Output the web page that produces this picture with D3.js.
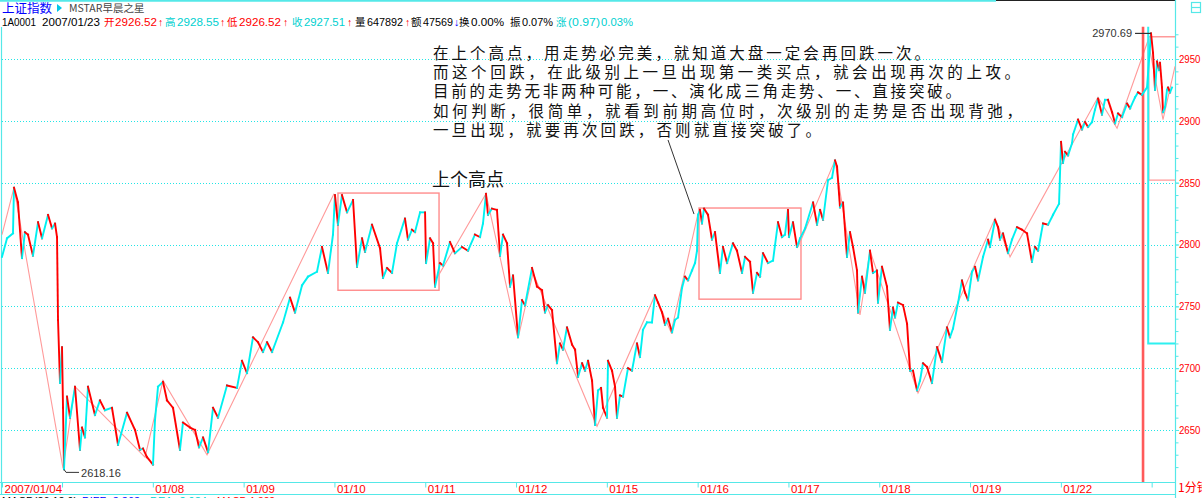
<!DOCTYPE html>
<html><head><meta charset="utf-8">
<script src="https://cdn.jsdelivr.net/npm/d3@7"></script>
<style>
html,body{margin:0;padding:0;background:#fff;overflow:hidden}
svg{display:block}
text{font-family:"Liberation Sans",Arial,sans-serif}
.cjk{font-family:"Noto Sans CJK SC","Noto Sans",sans-serif}
</style></head><body>
<svg id="c" width="1202" height="498"></svg>
<script>
// ---------------- data ----------------
const dayTicks = [0.339, 1, 2, 3, 4, 5, 6, 7, 8, 9, 10, 11, 12, 13];
const dayLabels = ["2007/01/04", "", "01/08", "01/09", "01/10", "01/11", "01/12", "01/15", "01/16", "01/17", "01/18", "01/19", "01/22", ""];
const gridValues = [2650, 2700, 2750, 2800, 2850, 2900, 2950];
const minorValues = d3.range(2620, 2980, 10);

const priceDays = [0.339,0.394,0.460,0.471,0.515,0.559,0.592,0.625,0.680,0.736,0.780,0.846,0.890,0.923,0.945,0.956,0.978,1.000,1.011,1.022,1.055,1.088,1.143,1.198,1.220,1.253,1.286,1.363,1.418,1.473,1.550,1.617,1.716,1.804,1.859,1.892,1.936,2.002,2.024,2.057,2.112,2.156,2.222,2.299,2.332,2.409,2.465,2.509,2.553,2.608,2.663,2.718,2.817,2.927,2.982,3.037,3.103,3.158,3.213,3.258,3.313,3.434,3.511,3.566,3.643,3.709,3.808,3.863,3.929,3.984,4.006,4.039,4.083,4.139,4.205,4.249,4.304,4.337,4.414,4.502,4.535,4.579,4.634,4.689,4.777,4.810,4.854,4.887,4.943,4.998,5.009,5.053,5.086,5.108,5.163,5.196,5.273,5.328,5.405,5.471,5.548,5.603,5.636,5.669,5.691,5.735,5.790,5.824,5.857,5.901,5.934,5.967,6.022,6.066,6.099,6.176,6.231,6.286,6.319,6.352,6.396,6.451,6.484,6.517,6.561,6.617,6.650,6.683,6.727,6.760,6.793,6.837,6.870,6.903,6.936,6.958,7.002,7.013,7.057,7.090,7.112,7.145,7.178,7.233,7.277,7.332,7.365,7.398,7.442,7.497,7.530,7.564,7.608,7.641,7.674,7.718,7.751,7.784,7.828,7.861,7.894,7.938,7.971,7.993,8.004,8.026,8.048,8.070,8.114,8.158,8.191,8.246,8.279,8.324,8.389,8.433,8.489,8.522,8.577,8.610,8.654,8.687,8.720,8.775,8.830,8.885,8.929,8.962,8.995,9.006,9.050,9.094,9.128,9.183,9.271,9.315,9.348,9.381,9.436,9.480,9.513,9.535,9.568,9.601,9.645,9.678,9.711,9.755,9.766,9.810,9.843,9.898,9.931,9.975,9.986,10.030,10.085,10.118,10.151,10.174,10.207,10.262,10.306,10.339,10.372,10.416,10.449,10.482,10.526,10.581,10.636,10.691,10.746,10.779,10.812,10.868,10.911,10.945,10.978,11.022,11.055,11.088,11.143,11.198,11.220,11.275,11.308,11.330,11.363,11.418,11.462,11.517,11.572,11.627,11.682,11.715,11.749,11.804,11.859,11.914,11.980,12.002,12.024,12.046,12.079,12.123,12.134,12.189,12.233,12.266,12.299,12.343,12.376,12.409,12.453,12.486,12.519,12.564,12.597,12.630,12.674,12.729,12.762,12.817,12.850,12.894,12.949,12.971,12.993,13.015,13.037,13.059,13.081,13.092,13.114,13.125,13.147,13.169,13.180,13.202,13.224];
const priceValues = [2790,2805,2809,2846,2834,2789,2810,2808,2791,2818,2805,2824,2813,2817,2806,2739,2688,2717,2668,2618.16,2677,2660,2685,2634,2652,2644,2685,2662,2674,2666,2668,2638,2664,2650,2634,2635,2628,2622,2658,2685,2689,2674,2668,2634,2656,2652,2650,2636,2644,2632,2668,2660,2686,2684,2706,2696,2725,2721,2713,2721,2713,2737,2757,2745,2767,2774,2778,2798,2777,2808,2840,2816,2840,2826,2836,2782,2805,2794,2816,2797,2773,2781,2777,2801,2821,2804,2812,2810,2826,2826,2785,2805,2801,2766,2785,2783,2802,2793,2798,2795,2808,2806,2817,2841,2824,2829,2828,2791,2808,2801,2766,2775,2725,2755,2751,2781,2766,2763,2745,2751,2747,2704,2720,2715,2733,2719,2715,2693,2704,2698,2706,2690,2654,2682,2684,2668,2660,2706,2698,2685,2660,2678,2677,2700,2698,2720,2709,2731,2737,2737,2759,2753,2745,2735,2740,2729,2739,2741,2765,2774,2771,2779,2785,2795,2824,2828,2817,2829,2824,2804,2810,2777,2798,2785,2801,2795,2777,2790,2786,2761,2777,2774,2793,2785,2787,2818,2806,2808,2828,2806,2818,2798,2805,2813,2834,2816,2828,2820,2852,2854,2868,2863,2830,2834,2790,2810,2798,2779,2745,2774,2761,2795,2777,2779,2753,2782,2766,2731,2749,2741,2753,2751,2736,2698,2698,2682,2690,2704,2701,2688,2717,2705,2733,2725,2732,2753,2771,2761,2755,2778,2782,2771,2790,2804,2798,2820,2814,2804,2809,2793,2804,2814,2812,2809,2786,2798,2795,2817,2816,2824,2833,2883,2866,2875,2872,2882,2889,2901,2893,2899,2895,2899,2909,2918,2905,2917,2917,2907,2898,2906,2903,2914,2910,2919,2923,2921,2927,2949,2970.69,2955,2925,2948,2941,2947,2927,2907,2911,2925,2927,2923,2927];

// zigzag (笔) lines, three visible runs
const zigDaysA = [0.339,0.471,1.011,1.143,1.914,2.112,2.597,3.995];
const zigValsA = [2808,2846,2619,2685,2628,2690,2630,2841];
const zigDaysB = [5.130,5.669,6.022,6.187,6.892,7.530,7.707,8.004];
const zigValsB = [2773,2841,2724,2777,2653,2759,2729,2825];
const zigDaysC = [9.105,9.513,9.788,9.898,10.427,11.275,11.440,12.409,12.619,12.960,13.125,13.257];
const zigValsC = [2798,2868,2743,2795,2680,2821,2790,2919,2894,2965,2901,2944];

// 中枢 boxes
const boxStart = [4.039, 8.015];
const boxEnd   = [5.152, 9.138];
const boxHigh  = [2841.6, 2829.5];
const boxLow   = [2763, 2755.8];

// right-side markers
const spikeDay = 12.905, spikeTop = 2976;
const cyanBracketDay = 12.962, cyanBracketTop = 2976, cyanBracketBottom = 2720;
const pinkBracketDay = 12.968, pinkBracketTop = 2968, pinkBracketBottom = 2852;

const lowPoint = [1.022, 2618.16];
const highPoint = [12.993, 2970.69];

const noteLines = [
  "在上个高点，用走势必完美，就知道大盘一定会再回跌一次。",
  "而这个回跌，在此级别上一旦出现第一类买点，就会出现再次的上攻。",
  "目前的走势无非两种可能，一、演化成三角走势、一、直接突破。",
  "如何判断，很简单，就看到前期高位时，次级别的走势是否出现背弛，",
  "一旦出现，就要再次回跌，否则就直接突破了。"
];
const noteWidths = [497, 587, 528, 589, 388];
const pointerFrom = [7.674, 2884.5], pointerTo = [7.960, 2824.6];

// [text, colour, x, width]
const headerItems = [
  ["1A0001", "#000", 2, 34], ["2007/01/23", "#000", 42, 58],
  ["开", "#f00", 104, 0], ["2926.52", "#f00", 115, 42], ["↑", "#f00", 158, 0],
  ["高", "#00d0d0", 165, 0], ["2928.55", "#00d0d0", 177, 42], ["↑", "#f00", 220, 0],
  ["低", "#f00", 227, 0], ["2926.52", "#f00", 239, 42], ["↑", "#f00", 283, 0],
  ["收", "#00d0d0", 292, 0], ["2927.51", "#00d0d0", 304, 41], ["↑", "#f00", 347, 0],
  ["量", "#000", 355, 0], ["647892", "#000", 367, 36], ["↑", "#f00", 405, 0],
  ["额", "#000", 411, 0], ["47569", "#000", 423, 30], ["↓", "#0000ff", 454, 0],
  ["换", "#000", 459, 0], ["0.00%", "#000", 471, 33],
  ["振", "#000", 510, 0], ["0.07%", "#000", 522, 31],
  ["涨", "#00d0d0", 556, 0], ["(0.97)", "#00d0d0", 568, 32], ["0.03%", "#00d0d0", 601, 32]
];
const footerItems = [
  ["MACD(26,12,9)", "#000", 2, 75], ["DIFF:-3.363", "#0000ff", 82, 58], ["↑", "#0000ff", 142, 0],
  ["DEA:-2.984", "#00d0d0", 150, 57], ["↑", "#00d0d0", 209, 0],
  ["MACD:1.322", "#f00", 217, 58], ["↑", "#f00", 279, 0]
];

// ---------------- drawing ----------------
const CYAN = "#00f0f0", RED = "#ff0000", PINK = "#ff9a9a", FRAME = "#55e8e8";
const svg = d3.select("#c");
svg.append("rect").attr("width", 1202).attr("height", 498).attr("fill", "#fff");

const x = d3.scaleLinear().domain([0.339, 13.257]).range([2, 1175]);
const y = d3.scaleLinear().domain([2650, 2950]).range([430, 59]);

// grid
svg.append("g").selectAll("line").data(gridValues).join("line")
  .attr("x1", 2).attr("x2", 1175)
  .attr("y1", d => Math.round(y(d)) + 0.5).attr("y2", d => Math.round(y(d)) + 0.5)
  .attr("stroke", "#22e6e6").attr("stroke-width", 1).attr("stroke-dasharray", "1,2");

// frame
const frame = svg.append("g").attr("stroke", FRAME).attr("stroke-width", 1.2).attr("fill", "none");
frame.append("line").attr("x1", 0).attr("x2", 996).attr("y1", 0.8).attr("y2", 0.8).attr("stroke-width", 2);
frame.append("line").attr("x1", 996).attr("x2", 1176).attr("y1", 0.5).attr("y2", 0.5).attr("stroke", "#222").attr("stroke-width", 1);
frame.append("line").attr("x1", 1.5).attr("x2", 1.5).attr("y1", 27).attr("y2", 495);
frame.append("line").attr("x1", 1175.5).attr("x2", 1175.5).attr("y1", 0).attr("y2", 498);
frame.append("line").attr("x1", 0).attr("x2", 1176).attr("y1", 482.5).attr("y2", 482.5);
frame.append("line").attr("x1", 0).attr("x2", 1176).attr("y1", 494.5).attr("y2", 494.5);
// top-right icon
frame.append("rect").attr("x", 1191.5).attr("y", 2.5).attr("width", 9).attr("height", 10);
frame.append("line").attr("x1", 1191.5).attr("x2", 1200.5).attr("y1", 7.5).attr("y2", 7.5);

// y axis (right)
const yMinor = d3.axisRight(y).tickValues(minorValues).tickSize(3).tickFormat("");
const gm = svg.append("g").attr("transform", "translate(1175.5,0)").call(yMinor);
gm.select(".domain").remove();
gm.selectAll("line").attr("stroke", FRAME);
const yAxis = d3.axisRight(y).tickValues(gridValues).tickSize(3.5).tickPadding(0).tickFormat(d3.format("d"));
const gy = svg.append("g").attr("transform", "translate(1175.5,0)").call(yAxis);
gy.select(".domain").remove();
gy.selectAll("line").attr("stroke", FRAME);
gy.selectAll("text").attr("fill", RED).attr("font-size", 10.5).attr("font-family", "Liberation Sans, Arial")
  .attr("textLength", 21.5).attr("lengthAdjust", "spacingAndGlyphs");

// x axis
const xAxis = d3.axisBottom(x).tickValues(dayTicks).tickSize(5).tickFormat((d, i) => dayLabels[i]);
const gx = svg.append("g").attr("transform", "translate(0,482.5)").call(xAxis);
gx.select(".domain").remove();
gx.selectAll("line").attr("stroke", FRAME);
gx.selectAll("text").attr("fill", RED).attr("font-size", 11.5).attr("font-family", "Liberation Sans, Arial")
  .attr("text-anchor", "start").attr("x", 2).attr("y", 10).attr("dy", 0);
svg.append("text").attr("x", 1178).attr("y", 492).attr("fill", RED).attr("font-size", 12)
  .attr("class", "cjk").text("1分钟");

// boxes
svg.append("g").selectAll("rect").data(boxStart).join("rect")
  .attr("x", (d, i) => x(d)).attr("y", (d, i) => y(boxHigh[i]))
  .attr("width", (d, i) => x(boxEnd[i]) - x(d)).attr("height", (d, i) => y(boxLow[i]) - y(boxHigh[i]))
  .attr("fill", "none").attr("stroke", "#ff8c8c").attr("stroke-width", 1.4);

// zigzag
const zl = d3.line().x(d => x(d[0])).y(d => y(d[1]));
[[zigDaysA, zigValsA], [zigDaysB, zigValsB], [zigDaysC, zigValsC]].forEach(([ds, vs]) => {
  svg.append("path").attr("d", zl(d3.zip(ds, vs))).attr("fill", "none")
    .attr("stroke", PINK).attr("stroke-width", 1.1);
});

// right-side markers
svg.append("line").attr("x1", x(spikeDay)).attr("x2", x(spikeDay))
  .attr("y1", y(spikeTop)).attr("y2", 482).attr("stroke", "#ff5a5a").attr("stroke-width", 2.6);
svg.append("path").attr("fill", "none").attr("stroke", PINK).attr("stroke-width", 1.3)
  .attr("d", `M1175,${y(pinkBracketTop)}L${x(pinkBracketDay)},${y(pinkBracketTop)}L${x(pinkBracketDay)},${y(pinkBracketBottom)}L1175,${y(pinkBracketBottom)}`);
svg.append("path").attr("fill", "none").attr("stroke", "#2ef0f0").attr("stroke-width", 2)
  .attr("d", `M${x(cyanBracketDay)},${y(cyanBracketTop)}L${x(cyanBracketDay)},${y(cyanBracketBottom)}L1175,${y(cyanBracketBottom)}`);

// price line, segments coloured by direction
const pts = d3.zip(priceDays, priceValues);
svg.append("g").selectAll("line").data(d3.pairs(pts)).join("line")
  .attr("x1", d => x(d[0][0])).attr("y1", d => y(d[0][1]))
  .attr("x2", d => x(d[1][0])).attr("y2", d => y(d[1][1]))
  .attr("stroke", d => d[1][1] >= d[0][1] ? CYAN : RED)
  .attr("stroke-width", 1.9).attr("stroke-linecap", "square");

// extreme labels
const lx = x(lowPoint[0]), ly = y(lowPoint[1]);
svg.append("path").attr("d", `M${lx},${ly}L${lx + 2},${ly + 3}L${lx + 15},${ly + 3}`)
  .attr("fill", "none").attr("stroke", "#333").attr("stroke-width", 1);
svg.append("text").attr("x", lx + 17).attr("y", ly + 7.5).attr("font-size", 11).attr("fill", "#333")
  .text(d3.format(".2f")(lowPoint[1]));
const hx = x(highPoint[0]), hy = y(highPoint[1]);
svg.append("line").attr("x1", hx - 16).attr("x2", hx).attr("y1", hy).attr("y2", hy)
  .attr("stroke", "#333").attr("stroke-width", 1.2);
svg.append("text").attr("x", hx - 19).attr("y", hy + 4).attr("font-size", 11).attr("fill", "#333")
  .attr("text-anchor", "end").text(d3.format(".2f")(highPoint[1]));

// annotations
svg.append("text").attr("class", "cjk").attr("x", 432).attr("y", 186).attr("font-size", 18)
  .attr("fill", "#111").text("上个高点");
svg.append("g").selectAll("text").data(noteLines).join("text")
  .attr("class", "cjk").attr("x", 433).attr("y", (d, i) => 58.5 + i * 19.4)
  .attr("font-size", 15.5).attr("fill", "#111")
  .attr("textLength", (d, i) => noteWidths[i]).attr("lengthAdjust", "spacing").text(d => d);
svg.append("line").attr("x1", x(pointerFrom[0])).attr("y1", y(pointerFrom[1]))
  .attr("x2", x(pointerTo[0])).attr("y2", y(pointerTo[1])).attr("stroke", "#333").attr("stroke-width", 1);

// header
svg.append("text").attr("class", "cjk").attr("x", 2).attr("y", 12.5).attr("font-size", 12.5)
  .attr("fill", "#0000ff").text("上证指数");
svg.append("path").attr("d", "M57,4L62,8L57,12Z").attr("fill", "#00c8e8");
svg.append("text").attr("x", 69).attr("y", 12).attr("font-size", 10.5).attr("fill", "#444")
  .attr("class", "cjk").text("MSTAR早晨之星");
const hdr = svg.append("g").selectAll("text").data(headerItems).join("text")
  .attr("x", d => d[2]).attr("y", 26).attr("font-size", 10.5).attr("fill", d => d[1])
  .attr("class", d => /[\u4e00-\u9fff]/.test(d[0]) ? "cjk" : null).text(d => d[0]);
hdr.filter(d => d[3] > 0).attr("textLength", d => d[3]).attr("lengthAdjust", "spacingAndGlyphs");
const ftr = svg.append("g").selectAll("text").data(footerItems).join("text")
  .attr("x", d => d[2]).attr("y", 504.5).attr("font-size", 10.5).attr("fill", d => d[1]).text(d => d[0]);
ftr.filter(d => d[3] > 0).attr("textLength", d => d[3]).attr("lengthAdjust", "spacingAndGlyphs");
</script>
</body></html>
